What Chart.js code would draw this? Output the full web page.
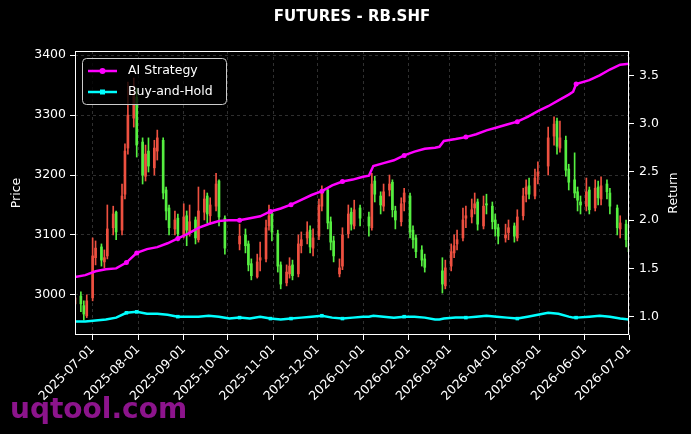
<!DOCTYPE html>
<html>
<head>
<meta charset="utf-8">
<script src="https://cdn.jsdelivr.net/npm/chart.js@4.4.1/dist/chart.umd.min.js"></script>
<style>
  html, body { margin: 0; padding: 0; background: #000; }
  #wrap { width: 691px; height: 434px; }
</style>
</head>
<body>
<div id="wrap"><canvas id="chart" width="691" height="434"></canvas></div>
<script>
const chartTitle = "FUTURES - RB.SHF";
const seriesNames = ["AI Strategy", "Buy-and-Hold"];
const axisTitles = ["Price", "Return"];

// x values are days since 2025-06-19
const monthTicks = [12, 43, 74, 104, 135, 165, 196, 227, 255, 286, 316, 347, 377];
const monthLabels = ["2025-07-01", "2025-08-01", "2025-09-01", "2025-10-01", "2025-11-01", "2025-12-01",
  "2026-01-01", "2026-02-01", "2026-03-01", "2026-04-01", "2026-05-01", "2026-06-01", "2026-07-01"];

// one candle every two trading days
const candleDays = [0, 4, 6, 8, 12, 14, 18, 20, 22, 26, 28, 32, 34, 36, 40, 42, 46, 48, 50, 54,
  56, 60, 62, 64, 68, 70, 74, 76, 78, 82, 84, 88, 90, 92, 96, 98, 102, 112, 116, 118,
  120, 124, 126, 130, 132, 134, 138, 140, 144, 146, 148, 152, 154, 158, 160, 162, 166, 168, 172, 174,
  176, 180, 182, 186, 188, 190, 194, 200, 202, 204, 208, 210, 214, 216, 218, 222, 224, 228, 230, 232,
  236, 238, 250, 252, 256, 258, 260, 264, 266, 270, 272, 274, 278, 280, 284, 286, 288, 293, 295, 299,
  301, 305, 307, 309, 313, 315, 322, 326, 328, 330, 334, 336, 340, 342, 344, 348, 350, 354, 356, 358,
  362, 364, 369, 371, 375, 377];
const opens = [2985, 2998, 2982, 2965, 2995, 3062, 3080, 3055, 3065, 3112, 3138, 3108, 3168, 3245, 3295, 3330, 3255, 3198, 3240, 3212,
  3240, 3258, 3175, 3145, 3110, 3128, 3100, 3132, 3105, 3125, 3092, 3138, 3165, 3132, 3148, 3190, 3128, 3085, 3100, 3085,
  3052, 3030, 3058, 3060, 3115, 3135, 3102, 3050, 3020, 3035, 3050, 3035, 3082, 3095, 3108, 3078, 3098, 3148, 3175, 3122,
  3090, 3035, 3048, 3102, 3138, 3115, 3145, 3130, 3112, 3190, 3165, 3148, 3175, 3188, 3140, 3122, 3155, 3165, 3108, 3095,
  3075, 3060, 3040, 3015, 3048, 3070, 3085, 3095, 3128, 3130, 3145, 3155, 3115, 3152, 3148, 3125, 3112, 3095, 3104, 3115,
  3095, 3132, 3168, 3182, 3165, 3198, 3215, 3265, 3290, 3245, 3258, 3210, 3192, 3172, 3155, 3148, 3175, 3145, 3180, 3160,
  3185, 3170, 3145, 3110, 3118, 3090];
const highs = [3010, 3005, 2990, 3000, 3095, 3090, 3085, 3075, 3150, 3148, 3140, 3185, 3252, 3355, 3362, 3345, 3262, 3250, 3262, 3258,
  3275, 3262, 3180, 3150, 3140, 3135, 3152, 3140, 3150, 3130, 3180, 3175, 3170, 3162, 3203, 3192, 3132, 3118, 3110, 3090,
  3060, 3068, 3088, 3125, 3150, 3140, 3108, 3055, 3050, 3062, 3058, 3100, 3105, 3122, 3115, 3110, 3160, 3182, 3178, 3130,
  3098, 3060, 3112, 3150, 3145, 3158, 3150, 3138, 3203, 3198, 3172, 3185, 3200, 3192, 3148, 3162, 3178, 3170, 3115, 3100,
  3082, 3068, 3062, 3058, 3085, 3100, 3108, 3145, 3148, 3160, 3170, 3160, 3165, 3168, 3155, 3135, 3118, 3118, 3125, 3120,
  3142, 3178, 3192, 3195, 3210, 3222, 3280, 3297, 3295, 3290, 3265, 3218, 3237, 3180, 3165, 3195, 3180, 3192, 3190, 3197,
  3192, 3178, 3150, 3132, 3125, 3098];
const lows = [2975, 2972, 2958, 2962, 2990, 3050, 3048, 3045, 3060, 3100, 3092, 3100, 3160, 3235, 3280, 3230, 3185, 3190, 3205, 3200,
  3225, 3160, 3125, 3100, 3100, 3090, 3095, 3082, 3098, 3085, 3088, 3125, 3120, 3118, 3140, 3115, 3068, 3075, 3070, 3040,
  3025, 3028, 3040, 3055, 3108, 3090, 3038, 3010, 3015, 3028, 3025, 3030, 3070, 3085, 3070, 3065, 3092, 3140, 3110, 3075,
  3055, 3030, 3042, 3095, 3108, 3110, 3115, 3098, 3108, 3155, 3135, 3140, 3165, 3130, 3110, 3115, 3140, 3095, 3078, 3062,
  3048, 3038, 3003, 3010, 3040, 3062, 3075, 3090, 3112, 3120, 3135, 3108, 3110, 3135, 3110, 3098, 3085, 3088, 3092, 3088,
  3090, 3125, 3155, 3160, 3160, 3185, 3200, 3250, 3235, 3238, 3198, 3175, 3162, 3140, 3135, 3140, 3135, 3140, 3150, 3150,
  3160, 3135, 3100, 3095, 3080, 3062];
const closes = [2995, 2985, 2968, 2990, 3065, 3078, 3058, 3062, 3110, 3135, 3105, 3165, 3240, 3300, 3335, 3250, 3200, 3235, 3215, 3245,
  3262, 3170, 3140, 3112, 3125, 3102, 3130, 3108, 3122, 3095, 3140, 3160, 3135, 3150, 3185, 3130, 3078, 3098, 3082, 3050,
  3032, 3055, 3062, 3112, 3132, 3105, 3048, 3018, 3038, 3048, 3032, 3085, 3092, 3105, 3080, 3095, 3150, 3172, 3120, 3088,
  3065, 3045, 3100, 3135, 3118, 3142, 3128, 3115, 3185, 3168, 3150, 3172, 3185, 3142, 3125, 3152, 3170, 3105, 3092, 3072,
  3058, 3046, 3018, 3045, 3072, 3082, 3092, 3125, 3132, 3142, 3152, 3118, 3148, 3150, 3122, 3110, 3098, 3100, 3112, 3098,
  3130, 3165, 3180, 3168, 3195, 3205, 3262, 3285, 3248, 3262, 3208, 3188, 3170, 3158, 3150, 3172, 3142, 3178, 3162, 3182,
  3172, 3148, 3112, 3120, 3092, 3072];

// return curves (right axis)
const lineDays = [0, 7, 14, 21, 28, 35, 42, 49, 56, 63, 70, 77, 84, 91, 98, 105, 112, 119, 126, 133,
  140, 147, 154, 161, 168, 175, 182, 189, 196, 200, 203, 210, 217, 224, 231, 238, 245, 248, 251, 259,
  266, 273, 280, 287, 294, 301, 308, 315, 322, 329, 336, 339, 341, 350, 357, 364, 371, 377];
const aiReturn = [1.41, 1.43, 1.47, 1.49, 1.50, 1.56, 1.66, 1.70, 1.72, 1.76, 1.81, 1.86, 1.92, 1.96, 1.99, 2.00, 2.00, 2.02, 2.04, 2.09,
  2.12, 2.16, 2.21, 2.26, 2.30, 2.36, 2.40, 2.42, 2.45, 2.46, 2.56, 2.59, 2.62, 2.67, 2.71, 2.74, 2.75, 2.76, 2.82, 2.84,
  2.86, 2.89, 2.93, 2.96, 2.99, 3.02, 3.07, 3.13, 3.18, 3.24, 3.30, 3.33, 3.41, 3.45, 3.50, 3.56, 3.61, 3.62];
const bhReturn = [0.95, 0.95, 0.96, 0.97, 0.99, 1.04, 1.05, 1.03, 1.03, 1.02, 1.00, 1.00, 1.00, 1.01, 1.00, 0.98, 0.99, 0.98, 1.00, 0.98,
  0.97, 0.98, 0.99, 1.00, 1.01, 0.99, 0.98, 0.99, 1.00, 1.00, 1.01, 1.00, 0.99, 1.00, 1.00, 0.99, 0.97, 0.97, 0.98, 0.99,
  0.99, 1.00, 1.01, 1.00, 0.99, 0.98, 1.00, 1.02, 1.04, 1.03, 1.00, 0.99, 0.99, 1.00, 1.01, 1.00, 0.98, 0.97];
const markerDays = [35, 42, 70, 112, 133, 147, 168, 182, 224, 266, 301, 341];

const upColor = "#ee5040";
const downColor = "#55ee40";
const aiColor = "#ff00ff";
const bhColor = "#00ffff";
const font = "DejaVu Sans";

const candleColors = closes.map((c, i) => (c >= opens[i] ? upColor : downColor));
const wickData = candleDays.map((d, i) => ({ x: d, y: [lows[i], highs[i]] }));
const bodyData = candleDays.map((d, i) => ({ x: d, y: [opens[i], closes[i]] }));
const aiData = lineDays.map((d, i) => ({ x: d, y: aiReturn[i] }));
const bhData = lineDays.map((d, i) => ({ x: d, y: bhReturn[i] }));
const markerRadius = (ctx) => (markerDays.includes(lineDays[ctx.dataIndex]) ? 2.5 : 0);

// title, frame, legend box, right axis title and watermark
const decor = {
  id: "decor",
  afterDraw(chart) {
    const { ctx, chartArea: a } = chart;
    ctx.save();
    ctx.strokeStyle = "#ffffff";
    ctx.lineWidth = 1;
    ctx.setLineDash([]);
    ctx.strokeRect(a.left + 0.5, a.top + 0.5, a.right - a.left - 1, a.bottom - a.top - 1);

    ctx.fillStyle = "#ffffff";
    ctx.font = `bold 15px "${font}"`;
    ctx.textAlign = "center";
    ctx.textBaseline = "middle";
    ctx.fillText(chartTitle, (a.left + a.right) / 2, 17);

    ctx.font = `12.5px "${font}"`;
    ctx.save();
    ctx.translate(674, (a.top + a.bottom) / 2);
    ctx.rotate(-Math.PI / 2);
    ctx.fillText(axisTitles[1], 0, 0);
    ctx.restore();

    // legend
    const bx = 82, by = 58, bw = 144, bh = 46;
    ctx.beginPath();
    ctx.roundRect(bx + 0.5, by + 0.5, bw, bh, 4);
    ctx.fillStyle = "rgba(0,0,0,0.8)";
    ctx.fill();
    ctx.strokeStyle = "#cccccc";
    ctx.stroke();
    const items = [
      { name: seriesNames[0], color: aiColor, y: 71, square: false },
      { name: seriesNames[1], color: bhColor, y: 92, square: true },
    ];
    items.forEach((it) => {
      ctx.strokeStyle = it.color;
      ctx.fillStyle = it.color;
      ctx.lineWidth = 2.5;
      ctx.beginPath();
      ctx.moveTo(88, it.y);
      ctx.lineTo(117, it.y);
      ctx.stroke();
      if (it.square) {
        ctx.fillRect(100, it.y - 2.5, 5, 5);
      } else {
        ctx.beginPath();
        ctx.arc(102.5, it.y, 3, 0, Math.PI * 2);
        ctx.fill();
      }
      ctx.fillStyle = "#ffffff";
      ctx.font = `12.5px "${font}"`;
      ctx.textAlign = "left";
      ctx.textBaseline = "middle";
      ctx.fillText(it.name, 128, it.y);
    });

    ctx.fillStyle = "#8c148c";
    ctx.font = `bold 28px "${font}"`;
    ctx.textAlign = "left";
    ctx.textBaseline = "alphabetic";
    ctx.fillText("uqtool.com", 10, 418);
    ctx.restore();
  },
};

const tickFont = { family: font, size: 12.5 };
const gridColor = "rgba(150,150,150,0.4)";

new Chart(document.getElementById("chart"), {
  type: "bar",
  data: {
    datasets: [
      {
        type: "line",
        label: seriesNames[0],
        data: aiData,
        yAxisID: "y1",
        borderColor: aiColor,
        backgroundColor: aiColor,
        borderWidth: 2.5,
        pointRadius: markerRadius,
        pointStyle: "circle",
        pointBorderWidth: 0,
        tension: 0,
        order: 0,
      },
      {
        type: "line",
        label: seriesNames[1],
        data: bhData,
        yAxisID: "y1",
        borderColor: bhColor,
        backgroundColor: bhColor,
        borderWidth: 2.5,
        pointRadius: markerRadius,
        pointStyle: "rect",
        pointBorderWidth: 0,
        tension: 0,
        order: 0,
      },
      {
        label: "body",
        data: bodyData,
        yAxisID: "y",
        backgroundColor: candleColors,
        barThickness: 2,
        grouped: false,
        borderWidth: 0,
        order: 1,
      },
      {
        label: "wick",
        data: wickData,
        yAxisID: "y",
        backgroundColor: candleColors,
        barThickness: 1,
        grouped: false,
        borderWidth: 0,
        order: 2,
      },
    ],
  },
  options: {
    responsive: false,
    animation: false,
    devicePixelRatio: 1,
    layout: { padding: { top: 51, left: 0, right: 0, bottom: 0 } },
    plugins: {
      legend: { display: false },
      tooltip: { enabled: false },
      title: { display: false },
    },
    scales: {
      x: {
        type: "linear",
        min: 0,
        max: 377,
        offset: false,
        afterBuildTicks: (scale) => {
          scale.ticks = monthTicks.map((v) => ({ value: v }));
        },
        afterFit: (scale) => { scale.height = 99; },
        ticks: {
          autoSkip: false,
          minRotation: 45,
          maxRotation: 45,
          color: "#ffffff",
          font: tickFont,
          padding: 2,
          callback: (v) => monthLabels[monthTicks.indexOf(v)],
        },
        grid: {
          offset: false,
          color: gridColor,
          lineWidth: 0.8,
          tickColor: "#ffffff",
          tickWidth: 1,
          tickLength: 5,
          tickBorderDash: [],
        },
        border: { display: false, dash: [3, 3] },
      },
      y: {
        position: "left",
        min: 2933,
        max: 3407,
        afterFit: (scale) => { scale.width = 75; },
        ticks: {
          stepSize: 100,
          includeBounds: false,
          color: "#ffffff",
          font: tickFont,
          padding: 4,
          callback: (v) => String(v),
        },
        grid: {
          color: gridColor,
          lineWidth: 0.8,
          tickColor: "#ffffff",
          tickWidth: 1,
          tickLength: 5,
          tickBorderDash: [],
        },
        border: { display: false, dash: [3, 3] },
        title: {
          display: true,
          text: axisTitles[0],
          color: "#ffffff",
          font: tickFont,
          padding: { top: 9, bottom: 0 },
        },
      },
      y1: {
        position: "right",
        min: 0.81,
        max: 3.752,
        afterFit: (scale) => { scale.width = 62; },
        ticks: {
          stepSize: 0.5,
          includeBounds: false,
          color: "#ffffff",
          font: tickFont,
          padding: 5,
          callback: (v) => v.toFixed(1),
        },
        grid: {
          drawOnChartArea: false,
          tickColor: "#ffffff",
          tickWidth: 1,
          tickLength: 5,
        },
        border: { display: false },
      },
    },
  },
  plugins: [decor],
});
</script>
</body>
</html>
